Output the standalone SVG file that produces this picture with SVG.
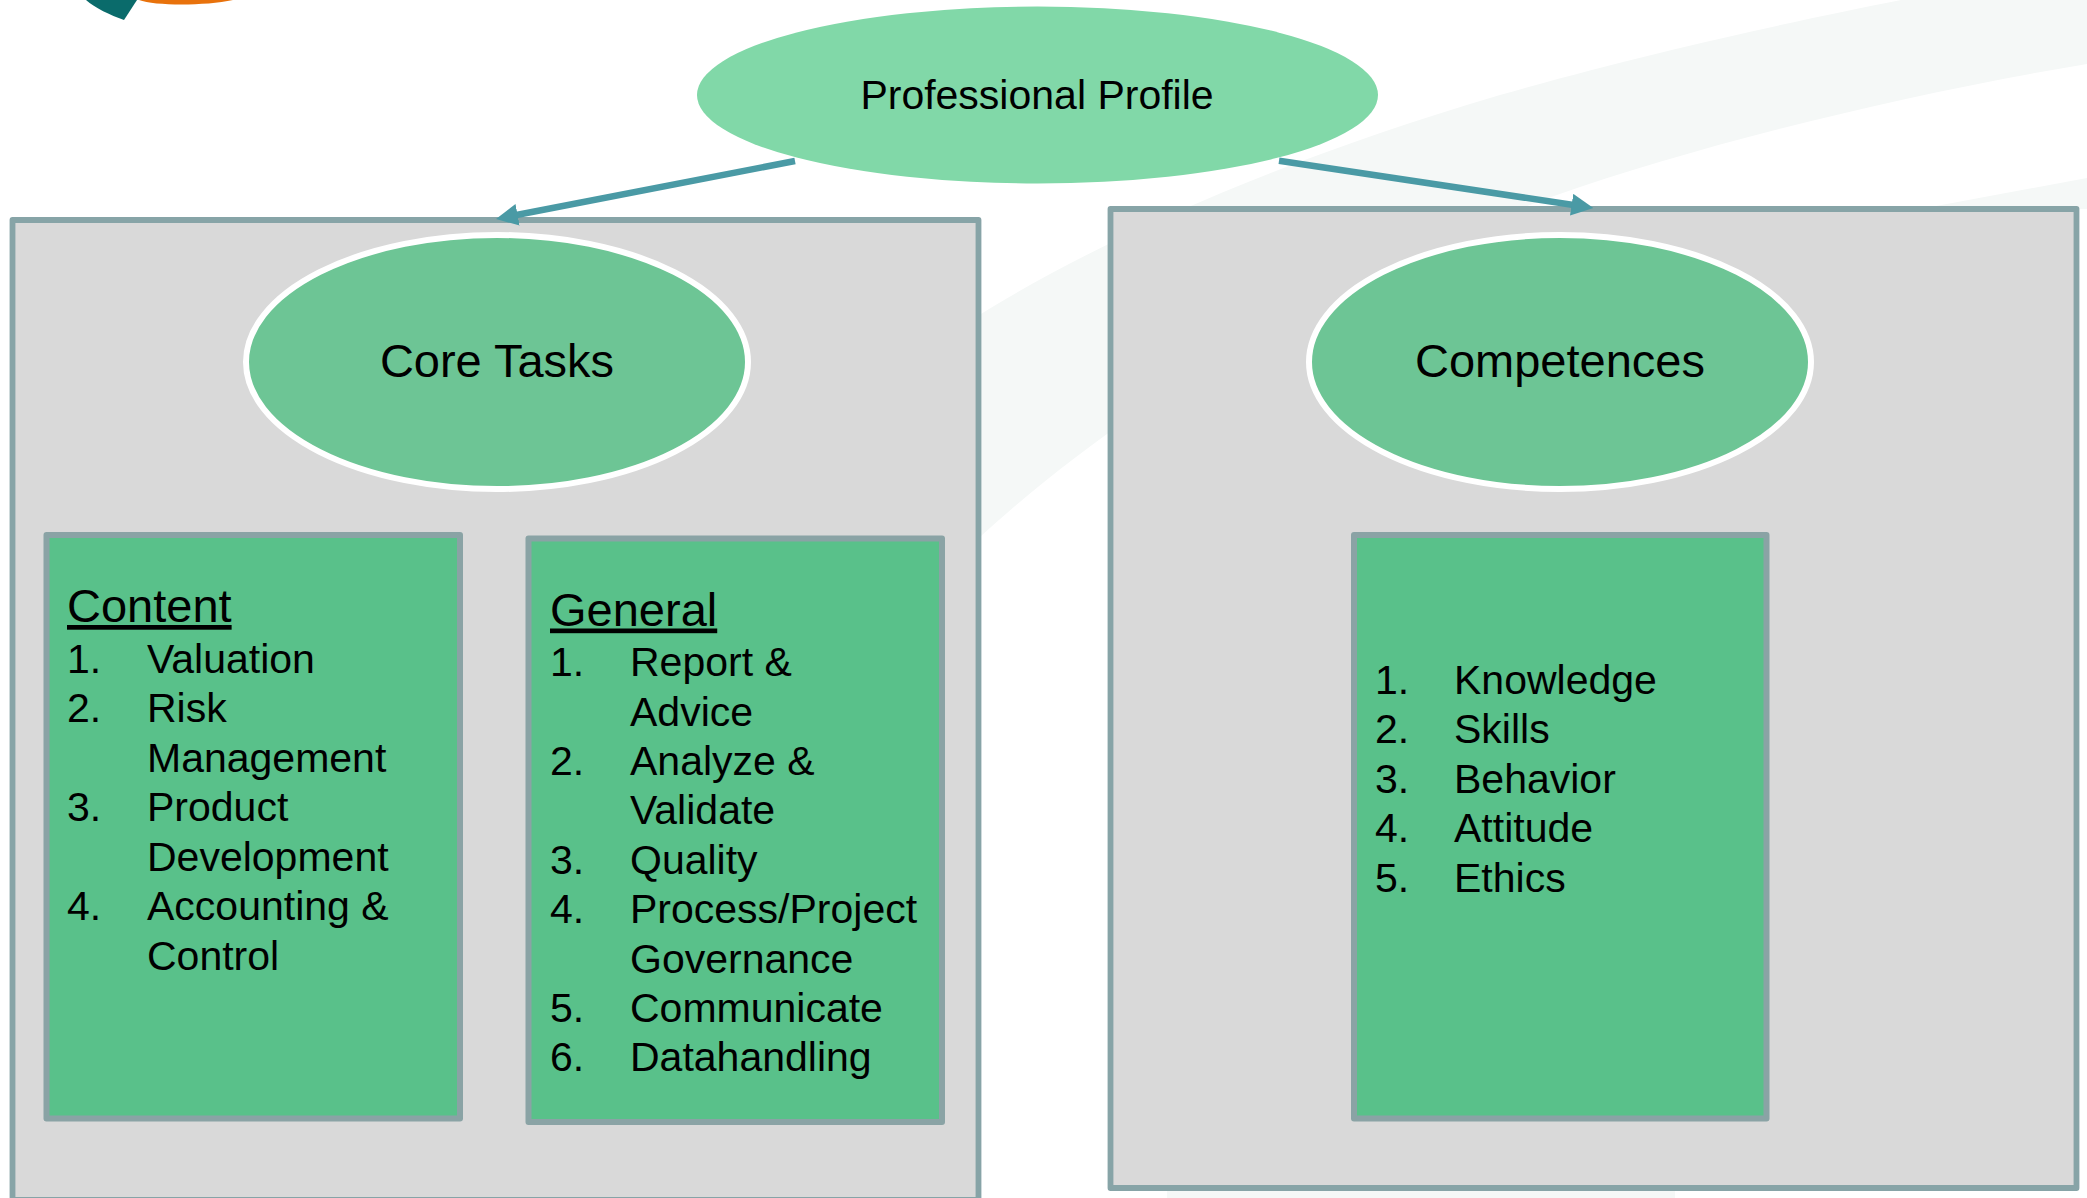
<svg xmlns="http://www.w3.org/2000/svg" width="2087" height="1198" viewBox="0 0 2087 1198">
<style>
text{font-family:"Liberation Sans",Arial,sans-serif;fill:#000}
.t41{font-size:41px}
.t47{font-size:47px}
.c{text-anchor:middle}
.u{text-decoration:underline}
.panel{fill:#d9d9d9;stroke:#87a4a7;stroke-width:5.8;stroke-linejoin:round}
.card{fill:#59c18a;stroke:#8aa3a5;stroke-width:6;stroke-linejoin:round}
.oval{fill:#6dc595;stroke:#fff;stroke-width:6}
.swoosh{fill:#f5f8f7}
.conn{stroke:#4a9aa5;stroke-width:6.5;fill:none;marker-end:url(#head)}
</style>
<defs>
<marker id="head" markerUnits="userSpaceOnUse" markerWidth="22" markerHeight="22" viewBox="0 0 22 22" refX="12" refY="11" orient="auto">
<path d="M0,0L22,11L0,22Z" fill="#4a9aa5"/>
</marker>
</defs>
<rect width="2087" height="1198" fill="#fff"/>
<g id="background">
<path class="swoosh" d="M981,314C1100,240 1279,160 1500,95C1650,52 1800,20 1901,0H2087V64C1900,95 1700,145 1554,196C1350,270 1130,400 981,536Z"/>
<path class="swoosh" d="M1920,209L2087,178V209Z"/>
<rect class="swoosh" x="1167" y="1191" width="508" height="7"/>
<path d="M86,0C95,8 110,15 124,20L137,0Z" fill="#0a6b6b"/>
<path d="M139,0C155,6 205,6 233,0Z" fill="#e8720c"/>
</g>
<g id="panel-core-tasks"><rect class="panel" x="12.5" y="220" width="966" height="980"/></g>
<g id="panel-competences"><rect class="panel" x="1110.5" y="209" width="966" height="979"/></g>
<g id="professional-profile">
<ellipse cx="1037.5" cy="95" rx="340.5" ry="88.5" fill="#81d8a8"/>
<text class="t41 c" x="1037" y="109">Professional Profile</text>
</g>
<g id="core-tasks">
<ellipse class="oval" cx="497" cy="362" rx="251" ry="127"/>
<text class="t47 c" x="497" y="376.5">Core Tasks</text>
</g>
<g id="competences">
<ellipse class="oval" cx="1560" cy="362" rx="251" ry="127"/>
<text class="t47 c" x="1560" y="376.5">Competences</text>
</g>
<g id="content-card">
<rect class="card" x="46.5" y="535" width="413.5" height="583.5"/>
<text class="t47 u" x="67" y="622">Content</text>
<g class="t41">
<text x="67" y="673">1.</text><text x="147" y="673">Valuation</text>
<text x="67" y="722">2.</text><text x="147" y="722">Risk</text>
<text x="147" y="771.5">Management</text>
<text x="67" y="821">3.</text><text x="147" y="821">Product</text>
<text x="147" y="870.5">Development</text>
<text x="67" y="920">4.</text><text x="147" y="920">Accounting &amp;</text>
<text x="147" y="970">Control</text>
</g>
</g>
<g id="general-card">
<rect class="card" x="528.5" y="538.5" width="413.5" height="583.5"/>
<text class="t47 u" x="550" y="625.5">General</text>
<g class="t41">
<text x="550" y="676">1.</text><text x="630" y="676">Report &amp;</text>
<text x="630" y="725.5">Advice</text>
<text x="550" y="775">2.</text><text x="630" y="775">Analyze &amp;</text>
<text x="630" y="824">Validate</text>
<text x="550" y="874">3.</text><text x="630" y="874">Quality</text>
<text x="550" y="923">4.</text><text x="630" y="923">Process/Project</text>
<text x="630" y="973">Governance</text>
<text x="550" y="1022">5.</text><text x="630" y="1022">Communicate</text>
<text x="550" y="1071">6.</text><text x="630" y="1071">Datahandling</text>
</g>
</g>
<g id="competences-card">
<rect class="card" x="1354" y="535" width="412.5" height="583.5"/>
<g class="t41">
<text x="1375" y="694">1.</text><text x="1454" y="694">Knowledge</text>
<text x="1375" y="743">2.</text><text x="1454" y="743">Skills</text>
<text x="1375" y="793">3.</text><text x="1454" y="793">Behavior</text>
<text x="1375" y="842">4.</text><text x="1454" y="842">Attitude</text>
<text x="1375" y="892">5.</text><text x="1454" y="892">Ethics</text>
</g>
</g>
<g id="connectors">
<line class="conn" x1="795" y1="161" x2="505.8" y2="217.1"/>
<line class="conn" x1="1279" y1="160.7" x2="1583.5" y2="206.5"/>
</g>
</svg>
